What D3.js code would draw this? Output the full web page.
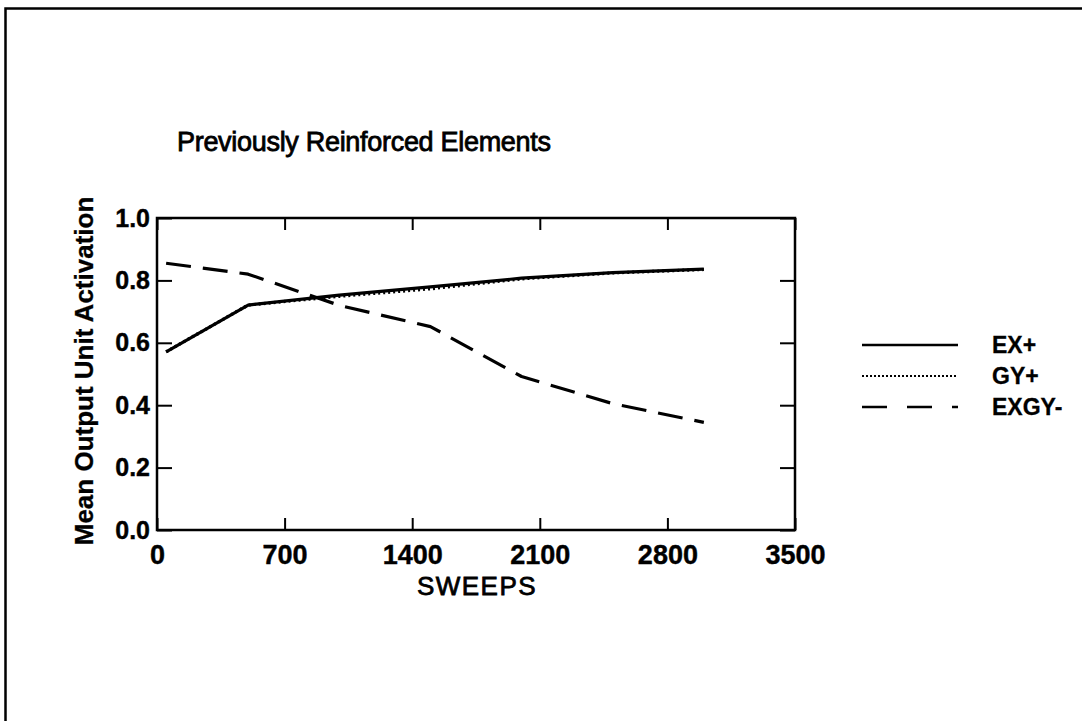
<!DOCTYPE html>
<html>
<head>
<meta charset="utf-8">
<script src="https://cdn.jsdelivr.net/npm/d3@7"></script>
<style>
  body { margin: 0; background: #fff; }
  svg { display: block; }
  text { font-family: "Liberation Sans", Arial, Helvetica, sans-serif; fill: #000; }
</style>
</head>
<body>
<svg id="chart" width="1082" height="721"></svg>
<script>
// Training sweeps at which activation was sampled
const sweeps = [50, 500, 1000, 1500, 2000, 2500, 3000];
// Mean output unit activation for each element type
const exPlus    = [0.571, 0.721, 0.753, 0.779, 0.807, 0.825, 0.836];
const gyPlus    = [0.571, 0.721, 0.749, 0.773, 0.805, 0.824, 0.835];
const exgyMinus = [0.855, 0.820, 0.720, 0.652, 0.492, 0.405, 0.345];

const seriesNames = ["EX+", "GY+", "EXGY-"];
const xTickValues = [0, 700, 1400, 2100, 2800, 3500];
const yTickValues = [0.0, 0.2, 0.4, 0.6, 0.8, 1.0];

const svg = d3.select("#chart");
const plot = { left: 157, right: 795, top: 218, bottom: 530 };

const x = d3.scaleLinear().domain([0, 3500]).range([plot.left, plot.right]);
const y = d3.scaleLinear().domain([0, 1]).range([plot.bottom, plot.top]);

// Page border (top and left edges)
svg.append("path")
  .attr("d", "M5.5,721 V8.5 H1082")
  .attr("fill", "none").attr("stroke", "#000").attr("stroke-width", 2.5);

// Heavier lettering, like a laser-printed page
const heavy = (sel, w) => sel.attr("stroke", "#000").attr("stroke-width", w).attr("paint-order", "stroke");

// Title
svg.append("text")
  .attr("x", 177).attr("y", 151)
  .attr("font-size", 27).attr("letter-spacing", -0.3)
  .text("Previously Reinforced Elements")
  .call(heavy, 0.8);

// Axes: ticks point inward on all four sides
const tickStyle = g => {
  g.select(".domain").remove();
  g.selectAll(".tick line").attr("stroke", "#000").attr("stroke-width", 2);
};

svg.append("g")
  .attr("transform", `translate(0,${plot.bottom})`)
  .call(d3.axisBottom(x).tickValues(xTickValues).tickSize(-12).tickPadding(15).tickFormat(d3.format("d")))
  .call(tickStyle)
  .call(g => g.selectAll("text")
    .attr("font-size", 27).attr("font-weight", "bold").attr("font-family", null)
    .call(heavy, 0.4));

svg.append("g")
  .attr("transform", `translate(0,${plot.top})`)
  .call(d3.axisTop(x).tickValues(xTickValues).tickSize(-12).tickFormat(""))
  .call(tickStyle);

svg.append("g")
  .attr("transform", `translate(${plot.left},0)`)
  .call(d3.axisLeft(y).tickValues(yTickValues).tickSize(-15).tickPadding(7).tickFormat(d3.format(".1f")))
  .call(tickStyle)
  .call(g => g.selectAll("text")
    .attr("font-size", 25).attr("font-weight", "bold").attr("font-family", null)
    .call(heavy, 0.4));

svg.append("g")
  .attr("transform", `translate(${plot.right},0)`)
  .call(d3.axisRight(y).tickValues(yTickValues).tickSize(-15).tickFormat(""))
  .call(tickStyle);

// Plot frame
svg.append("rect")
  .attr("x", plot.left).attr("y", plot.top)
  .attr("width", plot.right - plot.left).attr("height", plot.bottom - plot.top)
  .attr("fill", "none").attr("stroke", "#000").attr("stroke-width", 2.5);

// Axis titles
svg.append("text")
  .attr("x", 477).attr("y", 595)
  .attr("text-anchor", "middle")
  .attr("font-size", 26).attr("letter-spacing", 1.5)
  .text("SWEEPS")
  .call(heavy, 0.8);

svg.append("text")
  .attr("transform", `translate(93,${(plot.top + plot.bottom) / 2 - 3}) rotate(-90)`)
  .attr("text-anchor", "middle")
  .attr("font-size", 26).attr("font-weight", "bold")
  .text("Mean Output Unit Activation")
  .call(heavy, 0.3);

// Series lines
const line = d3.line().x(d => x(d[0])).y(d => y(d[1]));
const series = [
  { name: seriesNames[0], values: exPlus,    dash: null,    width: 3.2 },
  { name: seriesNames[1], values: gyPlus,    dash: "2,3",   width: 3.2 },
  { name: seriesNames[2], values: exgyMinus, dash: "25,12", width: 3.2 }
];

// GY+ drawn first so the solid EX+ line sits over it
[series[1], series[0], series[2]].forEach(s => {
  svg.append("path")
    .datum(sweeps.map((sw, i) => [sw, s.values[i]]))
    .attr("d", line)
    .attr("fill", "none")
    .attr("stroke", "#000")
    .attr("stroke-width", s.width)
    .attr("stroke-linejoin", "round")
    .attr("stroke-dasharray", s.dash);
});

// Legend
const legendDash = [null, "2,2", "25,20"];
const legendWidth = [2.5, 2, 2.5];
series.forEach((s, i) => {
  const ly = 345 + i * 31;
  svg.append("line")
    .attr("x1", 862).attr("x2", 958)
    .attr("y1", ly).attr("y2", ly)
    .attr("stroke", "#000")
    .attr("stroke-width", legendWidth[i])
    .attr("stroke-dasharray", legendDash[i]);
  svg.append("text")
    .attr("x", 992).attr("y", ly + 8)
    .attr("font-size", 23).attr("font-weight", "bold")
    .text(s.name)
    .call(heavy, 0.3);
});
</script>
</body>
</html>
